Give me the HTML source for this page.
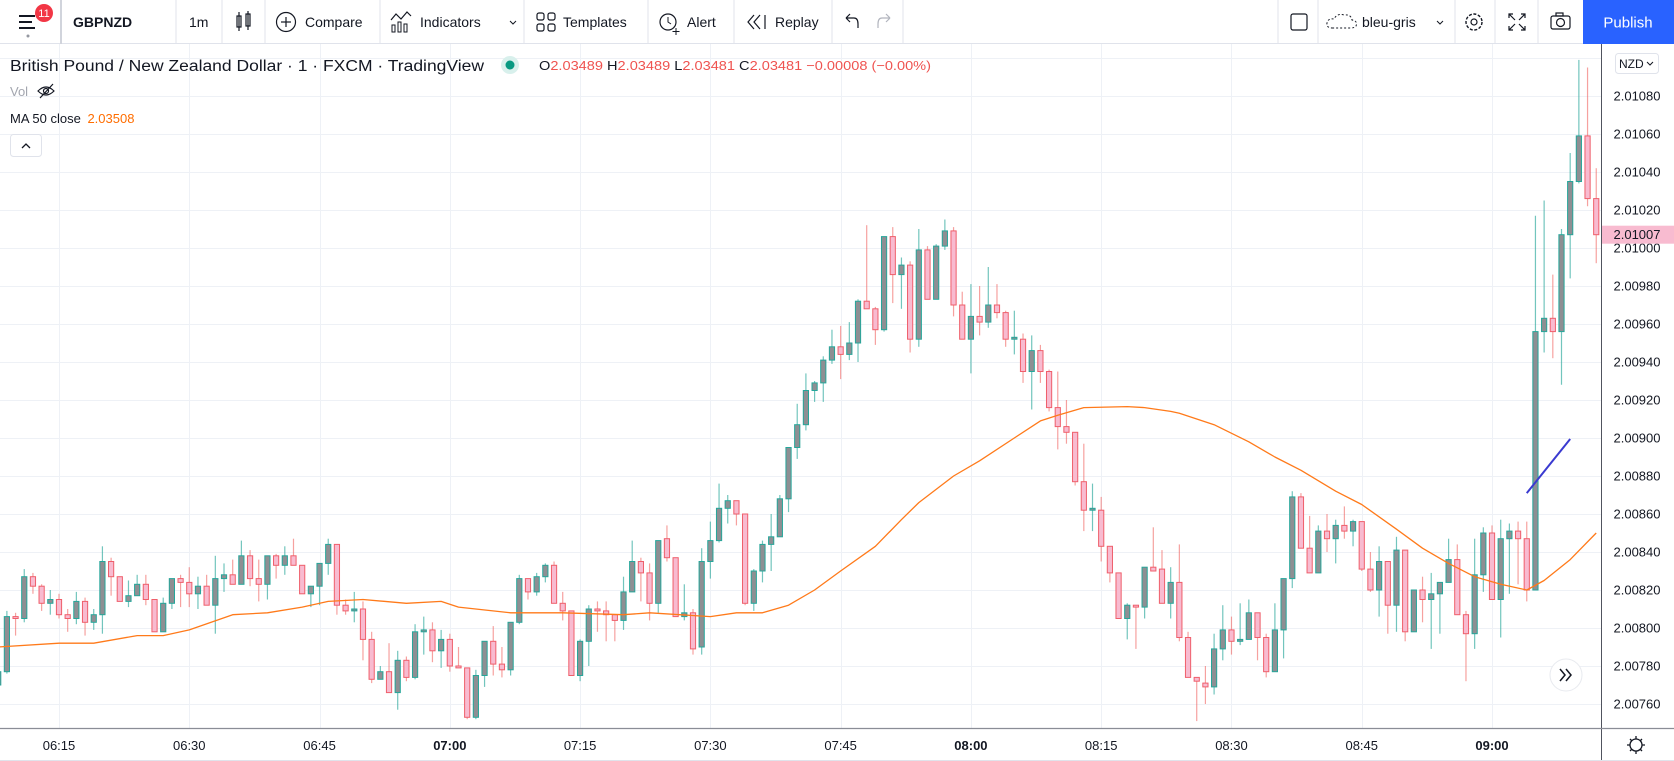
<!DOCTYPE html>
<html><head><meta charset="utf-8">
<style>
html,body{margin:0;padding:0;background:#fff;}
body{width:1674px;height:761px;overflow:hidden;position:relative;font-family:"Liberation Sans",sans-serif;}
svg{position:absolute;left:0;top:0;}
text{font-family:"Liberation Sans",sans-serif;}
</style></head>
<body>
<svg id="chart" width="1674" height="761" viewBox="0 0 1674 761" xmlns="http://www.w3.org/2000/svg">
  <g id="grid"></g>
  <g id="candles" clip-path="url(#plotclip)"></g>
  <defs><clipPath id="plotclip"><rect x="0" y="44" width="1601" height="684"/></clipPath></defs>
  <g id="ma" clip-path="url(#plotclip)"></g>
  <g id="drawing"></g>
  <g id="yaxis"></g>
  <g id="xaxis"></g>

  <!-- toolbar -->
  <g>
    <rect x="0" y="0" width="1674" height="44" fill="#fff"/>
    <line x1="0" y1="43.5" x2="1674" y2="43.5" stroke="#e0e3eb"/>
    <g>
      <rect x="19" y="15" width="16" height="2" fill="#131722"/>
      <rect x="19" y="21" width="13" height="2" fill="#131722"/>
      <rect x="19" y="27" width="16" height="2" fill="#131722"/>
      <circle cx="28" cy="36" r="1.5" fill="#9598a1"/>
      <circle cx="44" cy="13" r="9" fill="#f23645"/>
      <text x="44" y="17" font-size="11" fill="#fff" text-anchor="middle">11</text>
    </g>
    <line x1="61" y1="0" x2="61" y2="44" stroke="#d1d4dc" stroke-width="2"/>
    <text x="73" y="27" font-size="14" font-weight="bold" fill="#131722">GBPNZD</text>
    <line x1="176" y1="0" x2="176" y2="44" stroke="#e0e3eb"/>
    <text x="189" y="27" font-size="14" fill="#131722">1m</text>
    <line x1="222" y1="0" x2="222" y2="44" stroke="#e0e3eb"/>
    <g stroke="#131722" fill="none" stroke-width="1.2">
      <rect x="237" y="16" width="4" height="11"/><line x1="239" y1="12" x2="239" y2="31"/>
      <rect x="246" y="14" width="4" height="12"/><line x1="248" y1="11" x2="248" y2="30"/>
    </g>
    <line x1="265" y1="0" x2="265" y2="44" stroke="#e0e3eb"/>
    <g>
      <circle cx="286" cy="22" r="9.5" fill="none" stroke="#131722" stroke-width="1.2"/>
      <line x1="281" y1="22" x2="291" y2="22" stroke="#131722" stroke-width="1.2"/>
      <line x1="286" y1="17" x2="286" y2="27" stroke="#131722" stroke-width="1.2"/>
      <text x="305" y="27" font-size="14" fill="#131722">Compare</text>
    </g>
    <line x1="380" y1="0" x2="380" y2="44" stroke="#e0e3eb"/>
    <g>
      <polyline points="391,20 396,14 401,19 407,12 411,16" fill="none" stroke="#131722" stroke-width="1.2"/>
      <rect x="392" y="25" width="3" height="7" fill="none" stroke="#131722"/>
      <rect x="398" y="22" width="3" height="10" fill="none" stroke="#131722"/>
      <rect x="404" y="24" width="3" height="8" fill="none" stroke="#131722"/>
      <text x="420" y="27" font-size="14" fill="#131722">Indicators</text>
      <polyline points="510,21 513,24 516,21" fill="none" stroke="#131722"/>
    </g>
    <line x1="524" y1="0" x2="524" y2="44" stroke="#e0e3eb"/>
    <g fill="none" stroke="#131722" stroke-width="1.2">
      <rect x="537" y="13" width="7" height="7" rx="2"/><rect x="548" y="13" width="7" height="7" rx="2"/>
      <rect x="537" y="24" width="7" height="7" rx="2"/><rect x="548" y="24" width="7" height="7" rx="2"/>
    </g>
    <text x="563" y="27" font-size="14" fill="#131722">Templates</text>
    <line x1="648" y1="0" x2="648" y2="44" stroke="#e0e3eb"/>
    <g>
      <circle cx="668" cy="22" r="8" fill="none" stroke="#131722" stroke-width="1.2"/>
      <polyline points="668,17 668,22 671,24" fill="none" stroke="#131722"/>
      <line x1="676" y1="28" x2="676" y2="35" stroke="#131722"/><line x1="672.5" y1="31.5" x2="679.5" y2="31.5" stroke="#131722"/>
      <text x="687" y="27" font-size="14" fill="#131722">Alert</text>
    </g>
    <line x1="734" y1="0" x2="734" y2="44" stroke="#e0e3eb"/>
    <g>
      <polyline points="754,15 748,22 754,29" fill="none" stroke="#131722" stroke-width="1.2"/>
      <polyline points="760,15 754,22 760,29" fill="none" stroke="#131722" stroke-width="1.2"/>
      <line x1="765" y1="15" x2="765" y2="29" stroke="#131722" stroke-width="1.2"/>
      <text x="775" y="27" font-size="14" fill="#131722">Replay</text>
    </g>
    <line x1="832" y1="0" x2="832" y2="44" stroke="#e0e3eb"/>
    <path d="M846 18 L850 14 M846 18 L850 22 M846 18 H854 Q858 18 858 24 V28" fill="none" stroke="#131722" stroke-width="1.2"/>
    <path d="M890 18 L886 14 M890 18 L886 22 M890 18 H882 Q878 18 878 24 V28" fill="none" stroke="#b2b5be" stroke-width="1.2"/>
    <line x1="903" y1="0" x2="903" y2="44" stroke="#e0e3eb"/>
    <line x1="1278" y1="0" x2="1278" y2="44" stroke="#e0e3eb"/>
    <rect x="1291" y="14" width="16" height="16" rx="2" fill="none" stroke="#131722" stroke-width="1.2"/>
    <line x1="1318" y1="0" x2="1318" y2="44" stroke="#e0e3eb"/>
    <g>
      <path d="M1333 28 Q1326 28 1327 23 Q1328 18 1334 19 Q1337 13 1344 15 Q1351 14 1352 20 Q1358 21 1356 26 Q1355 28 1350 28 Z" fill="none" stroke="#131722" stroke-dasharray="2 2"/>
      <text x="1362" y="27" font-size="14" fill="#131722">bleu-gris</text>
      <polyline points="1437,21 1440,24 1443,21" fill="none" stroke="#131722"/>
    </g>
    <line x1="1455" y1="0" x2="1455" y2="44" stroke="#e0e3eb"/>
    <g>
      <circle cx="1474" cy="22" r="8" fill="none" stroke="#131722" stroke-width="1.4" stroke-dasharray="3 1.6"/>
      <circle cx="1474" cy="22" r="3" fill="none" stroke="#131722" stroke-width="1.2"/>
    </g>
    <line x1="1495" y1="0" x2="1495" y2="44" stroke="#e0e3eb"/>
    <path d="M1509 18 V14 H1513 M1521 14 H1525 V18 M1525 26 V30 H1521 M1513 30 H1509 V26 M1509 14 L1515 20 M1525 14 L1519 20 M1525 30 L1519 24 M1509 30 L1515 24" fill="none" stroke="#131722" stroke-width="1.2"/>
    <line x1="1538" y1="0" x2="1538" y2="44" stroke="#e0e3eb"/>
    <g fill="none" stroke="#131722" stroke-width="1.2">
      <rect x="1551" y="16" width="19" height="13" rx="2"/><circle cx="1560.5" cy="22.5" r="4"/><rect x="1556" y="13" width="7" height="3"/>
    </g>
    <g>
      <rect x="1583" y="0" width="91" height="44" fill="#2962ff"/>
      <text x="1628" y="27.5" font-size="15" fill="#fff" text-anchor="middle">Publish</text>
    </g>
  </g>

  <!-- legend -->
  <g>
    <text x="10" y="71" font-size="15.5" fill="#131722" textLength="474" lengthAdjust="spacingAndGlyphs">British Pound / New Zealand Dollar · 1 · FXCM · TradingView</text>
    <circle cx="510" cy="65" r="9" fill="#d8f0ec"/>
    <circle cx="510" cy="65" r="4.5" fill="#089981"/>
    <text x="539" y="70" font-size="13" fill="#ef5350" textLength="392" lengthAdjust="spacingAndGlyphs"><tspan fill="#131722">O</tspan>2.03489 <tspan fill="#131722">H</tspan>2.03489 <tspan fill="#131722">L</tspan>2.03481 <tspan fill="#131722">C</tspan>2.03481 −0.00008 (−0.00%)</text>
    <text x="10" y="96" font-size="13" fill="#a3a6af">Vol</text>
    <g fill="none" stroke="#131722" stroke-width="1.2">
      <path d="M38 91 Q46 83 54 91 Q46 99 38 91 Z"/><circle cx="46" cy="91" r="2.5"/><line x1="40" y1="98" x2="53" y2="84"/>
    </g>
    <text x="10" y="123" font-size="13" fill="#131722">MA 50 close <tspan fill="#ff6d00" dx="3">2.03508</tspan></text>
    <g>
      <rect x="10.5" y="134.5" width="31" height="22" rx="3" fill="#fff" stroke="#e0e3eb"/>
      <polyline points="22,148 26,144 30,148" fill="none" stroke="#131722" stroke-width="1.3"/>
    </g>
  </g>

  <g>
    <circle cx="1566" cy="675" r="16" fill="#fff" stroke="#e8eaef"/>
    <polyline points="1560,669 1565,675 1560,681" fill="none" stroke="#131722" stroke-width="1.5"/>
    <polyline points="1566,669 1571,675 1566,681" fill="none" stroke="#131722" stroke-width="1.5"/>
  </g>
</svg>

<script>
// Candles: one per minute starting 06:08. Values in units of 0.00001 above 2.00000 (price = 2 + v/100000).
const opens  = [770,777,806,805,827,822,813,815,807,805,814,803,807,835,827,814,817,823,815,798,813,826,824,818,822,812,826,828,823,838,826,823,838,833,838,833,818,822,834,844,812,809,810,794,773,777,766,783,774,798,799,788,794,780,779,753,775,793,781,778,803,826,819,827,833,813,809,775,793,810,809,807,804,819,835,829,813,847,837,806,808,790,835,846,863,867,860,813,830,844,848,868,895,907,925,929,941,948,944,950,972,968,957,1006,986,991,952,999,973,1001,1009,970,952,964,961,970,966,952,952,935,946,935,916,906,903,877,862,862,843,829,805,812,811,832,831,813,824,795,774,771,769,789,799,793,794,808,795,777,799,826,869,842,829,851,847,854,851,856,831,820,835,812,841,798,820,815,818,824,836,807,797,828,850,815,847,851,847,820,956,963,956,1007,1035,1059,1026];
const highs  = [779,809,808,831,829,823,820,818,810,819,816,810,843,837,827,825,828,828,815,816,826,828,832,827,828,838,834,836,846,841,836,838,839,843,847,833,822,834,847,844,815,819,814,798,780,792,788,785,802,806,803,799,797,790,779,778,793,801,790,803,828,826,829,834,835,819,809,794,812,814,814,807,827,846,837,834,846,854,837,823,810,842,856,876,870,867,860,831,846,860,870,895,918,934,930,943,957,959,961,973,1012,969,1006,1011,995,993,1010,1001,1002,1015,1011,977,981,980,990,981,967,967,955,954,949,936,935,920,903,897,876,869,843,829,813,812,832,853,841,832,844,798,774,780,797,812,806,813,815,808,797,813,826,872,871,859,854,860,857,864,857,856,840,843,835,848,841,820,827,829,824,847,844,809,847,853,854,857,855,856,856,1017,1025,986,1010,1050,1099,1095,1042];
const lows   = [768,776,796,803,818,809,807,805,798,802,796,799,797,817,814,811,817,812,798,798,810,811,811,810,812,797,819,823,823,822,814,815,826,828,833,818,811,812,828,807,807,803,783,771,773,766,757,772,773,786,782,779,777,779,752,752,769,775,774,775,802,815,817,824,813,804,775,772,780,798,793,793,799,819,814,804,808,835,806,804,786,786,826,845,855,854,812,809,824,830,848,861,889,904,919,919,939,931,941,940,968,949,956,971,968,945,948,973,973,999,964,952,934,954,958,963,948,944,929,915,929,914,894,897,875,851,851,835,824,805,794,789,805,830,813,805,793,774,751,760,765,783,786,791,794,783,774,777,784,821,842,829,829,840,834,847,843,830,819,806,797,798,793,798,803,789,797,824,807,772,789,819,815,795,818,823,814,820,945,942,928,984,1034,1022,992];
const closes = [777,806,805,827,822,813,815,807,805,814,803,807,835,827,814,817,823,815,798,813,826,824,818,822,812,826,828,823,838,826,823,838,833,838,833,818,822,834,844,812,809,810,794,773,777,766,783,774,798,799,788,794,780,779,753,775,793,781,778,803,826,819,827,833,813,809,775,793,810,809,807,804,819,835,829,813,846,837,806,808,789,835,846,863,867,860,813,830,844,848,868,895,907,925,929,941,948,944,950,972,968,957,1006,986,991,952,999,973,1001,1009,970,952,964,961,970,966,952,953,935,946,935,916,906,903,877,862,863,843,829,805,812,811,832,830,813,824,795,774,772,769,789,799,793,794,808,795,777,799,826,869,842,829,851,847,854,851,856,831,820,835,812,841,798,820,815,818,824,836,807,797,828,850,815,847,851,847,820,956,963,956,1007,1035,1059,1026,1007];
// MA 50 close, sampled at candle indices (same indexing as arrays above)
const maIndex  = [0,7,11,16,19,22,27,31,35,38,42,47,51,53,59,65,72,75,82,85,88,91,94,97,101,104,106,110,113,117,120,122,125,130,132,135,136,140,144,147,150,154,157,161,164,167,170,173,176,178,181,184];
const maValues = [790,792,792,796,796,799,807,808,811,814,815,813,814,811,808,808,807,808,806,808,808,812,820,830,843,857,866,880,888,900,909,912,916,916.5,916,914,913,907,898,890,883,872,865,852,842,834,827,823,820,825,836,850];
const priceTicks = [1080,1060,1040,1020,1000,980,960,940,920,900,880,860,840,820,800,780,760];
const gridPrices = [1100,1080,1060,1040,1020,1000,980,960,940,920,900,880,860,840,820,800,780,760];
const timeLabels = ['06:15','06:30','06:45','07:00','07:15','07:30','07:45','08:00','08:15','08:30','08:45','09:00'];
const lastPrice = 1007;
const drawStart = [176, 871];
const drawEnd   = [181, 899.5];
const firstMinute = 6*60+8; // 06:08

const NS = 'http://www.w3.org/2000/svg';
function xScale(i){ return -1.8 + 8.685*i; }
function yScale(v){ return 96 + (1080 - v)*1.9; }
function fmt(v){ return (2 + v/100000).toFixed(5); }
function mk(tag, attrs, parent){ const e=document.createElementNS(NS,tag); for(const k in attrs) e.setAttribute(k,attrs[k]); parent.appendChild(e); return e; }

const grid=document.getElementById('grid');
gridPrices.forEach(p=>{
  const y=Math.round(yScale(p))+0.5;
  const l=mk('line',{x1:0,x2:1601,y1:y,y2:y,stroke:'#eef1f6','stroke-width':1},grid);
  
  
});
timeLabels.forEach(t=>{
  const m=parseInt(t.slice(0,2))*60+parseInt(t.slice(3))-firstMinute;
  const x=Math.round(xScale(m))+0.5;
  const l=mk('line',{x1:x,x2:x,y1:44,y2:728,stroke:'#eef1f6','stroke-width':1},grid);
  
  
});

const cg=document.getElementById('candles');
for(let i=0;i<opens.length;i++){
  const o=opens[i],h=highs[i],l=lows[i],c=closes[i];
  const up=c>=o;
  const cx=xScale(i);
  const g=mk('g',{},cg);
  
  
  mk('line',{x1:cx,x2:cx,y1:yScale(h),y2:yScale(l),stroke: up?'rgba(38,166,154,0.65)':'rgba(239,83,80,0.55)','stroke-width':1.2},g);
  const top=yScale(Math.max(o,c)), bot=yScale(Math.min(o,c));
  mk('rect',{x:cx-2.6,y:top,width:5.2,height:Math.max(1,bot-top),fill: up?'#8e8f93':'#f8bbd0',stroke: up?'#26a69a':'#ef5f6b','stroke-width':1},g);
}

const mg=document.getElementById('ma');
let d='';
maIndex.forEach((ix,k)=>{ d+=(k?'L':'M')+xScale(ix).toFixed(1)+' '+yScale(maValues[k]).toFixed(1)+' '; });
const mp=mk('path',{d:d,fill:'none',stroke:'#ff7a1a','stroke-width':1.3,'stroke-linejoin':'round'},mg);



const dg=document.getElementById('drawing');
const dl=mk('line',{x1:xScale(drawStart[0]),y1:yScale(drawStart[1]),x2:xScale(drawEnd[0]),y2:yScale(drawEnd[1]),stroke:'#3a3ad0','stroke-width':2},dg);



const ya=document.getElementById('yaxis');
mk('rect',{x:1601,y:44,width:73,height:684,fill:'#fff'},ya);
mk('line',{x1:1601.5,x2:1601.5,y1:44,y2:761,stroke:'#50535e','stroke-width':1},ya);
priceTicks.forEach(p=>{
  const t=mk('text',{x:1637,y:yScale(p)+4.5,'font-size':13,fill:'#131722','text-anchor':'middle'},ya);
  
  
  t.textContent=fmt(p);
});
const tagY=yScale(lastPrice);
const tag=mk('g',{},ya);


mk('rect',{x:1602,y:tagY-9,width:72,height:18,fill:'#f8bbd0'},tag);
const tt=mk('text',{x:1637,y:tagY+4.5,'font-size':13,fill:'#131722','text-anchor':'middle'},tag);
tt.textContent=fmt(lastPrice);
const nzd=mk('g',{},ya);


mk('rect',{x:1615.5,y:53.5,width:43,height:20,rx:3,fill:'#fff',stroke:'#e0e3eb'},nzd);
const nt=mk('text',{x:1619,y:68,'font-size':12,fill:'#131722'},nzd);
nt.textContent='NZD';
mk('polyline',{points:'1647,62 1650,65 1653,62',fill:'none',stroke:'#131722'},nzd);

const xa=document.getElementById('xaxis');
mk('rect',{x:0,y:729,width:1601,height:32,fill:'#fff'},xa);
mk('line',{x1:0,x2:1674,y1:728.5,y2:728.5,stroke:'#8a8d96','stroke-width':1.2},xa);
mk('line',{x1:0,x2:1674,y1:760.5,y2:760.5,stroke:'#e0e3eb','stroke-width':1},xa);
timeLabels.forEach(t=>{
  const m=parseInt(t.slice(0,2))*60+parseInt(t.slice(3))-firstMinute;
  const bold=t.endsWith(':00');
  const e=mk('text',{x:xScale(m),y:750,'font-size':13,fill:'#131722','text-anchor':'middle','font-weight':bold?'bold':'normal'},xa);
  
  
  e.textContent=t;
});
const gear=mk('g',{},xa);


mk('circle',{cx:1636,cy:745,r:6,fill:'none',stroke:'#131722','stroke-width':1.3},gear);
mk('path',{d:'M1636 736 V739 M1636 751 V754 M1627 745 H1630 M1642 745 H1645 M1630 739 L1632 741 M1642 739 L1640 741 M1630 751 L1632 749 M1642 751 L1640 749',stroke:'#131722','stroke-width':1.3},gear);
</script>
</body></html>
